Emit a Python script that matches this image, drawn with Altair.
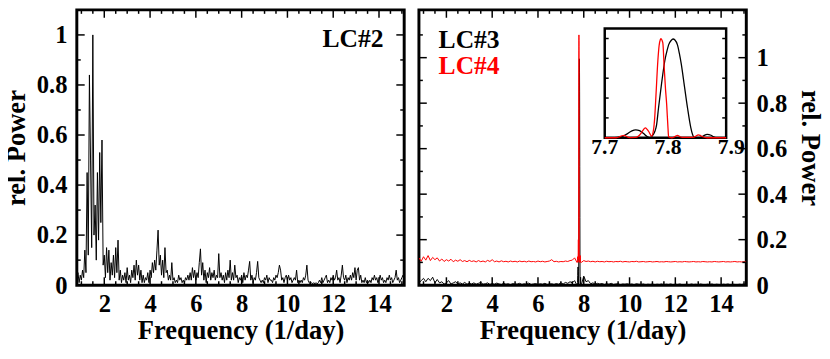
import altair as alt
import numpy as np
import pandas as pd

FONT = "Liberation Serif"

# ---------------- data ----------------
# LC#2 periodogram, sampled every 0.05 1/day starting at 0.80
lc2_start, lc2_step = 0.80, 0.05
lc2_power = [
    0.03, 0.05, 0.01, 0.04, 0.02, 0.06, 0.03, 0.14, 0.05, 0.45, 0.12, 0.84, 0.50, 0.15, 1.00, 0.20, 0.32, 0.10, 0.45, 0.18,
    0.53, 0.25, 0.58, 0.08, 0.12, 0.03, 0.15, 0.05, 0.14, 0.02, 0.09, 0.04, 0.12, 0.03, 0.15, 0.05, 0.18, 0.02, 0.06, 0.01,
    0.04, 0.02, 0.05, 0.01, 0.07, 0.02, 0.04, 0.01, 0.06, 0.03, 0.08, 0.02, 0.10, 0.04, 0.08, 0.02, 0.06, 0.01, 0.04, 0.01,
    0.03, 0.02, 0.05, 0.01, 0.06, 0.03, 0.09, 0.05, 0.10, 0.06, 0.14, 0.22, 0.08, 0.12, 0.04, 0.10, 0.03, 0.15, 0.05, 0.06,
    0.02, 0.04, 0.02, 0.09, 0.02, 0.03, 0.01, 0.02, 0.01, 0.04, 0.02, 0.03, 0.01, 0.02, 0.01, 0.03, 0.02, 0.04, 0.02, 0.05,
    0.02, 0.07, 0.03, 0.06, 0.02, 0.05, 0.03, 0.09, 0.145, 0.04, 0.09, 0.02, 0.06, 0.01, 0.05, 0.03, 0.07, 0.02, 0.05, 0.03,
    0.06, 0.02, 0.04, 0.03, 0.126, 0.03, 0.05, 0.02, 0.04, 0.01, 0.05, 0.02, 0.06, 0.03, 0.10, 0.02, 0.05, 0.02, 0.08, 0.03,
    0.04, 0.01, 0.03, 0.02, 0.04, 0.01, 0.05, 0.02, 0.04, 0.03, 0.06, 0.095, 0.02, 0.04, 0.01, 0.03, 0.02, 0.05, 0.095, 0.03,
    0.02, 0.01, 0.02, 0.01, 0.03, 0.02, 0.04, 0.01, 0.03, 0.02, 0.02, 0.01, 0.03, 0.02, 0.04, 0.03, 0.05, 0.08, 0.06, 0.02,
    0.03, 0.01, 0.03, 0.04, 0.02, 0.04, 0.02, 0.03, 0.01, 0.02, 0.03, 0.02, 0.06, 0.01, 0.02, 0.01, 0.02, 0.01, 0.03, 0.02,
    0.04, 0.08, 0.02, 0.01, 0.005, 0.01, 0.005, 0.01, 0.005, 0.01, 0.005, 0.01, 0.02, 0.01, 0.03, 0.01, 0.02, 0.03, 0.04, 0.01,
    0.02, 0.01, 0.03, 0.02, 0.04, 0.02, 0.03, 0.06, 0.02, 0.03, 0.01, 0.04, 0.08, 0.03, 0.02, 0.04, 0.01, 0.03, 0.02, 0.04,
    0.02, 0.05, 0.03, 0.07, 0.02, 0.06, 0.07, 0.02, 0.04, 0.01, 0.02, 0.01, 0.03, 0.01, 0.02, 0.01, 0.02, 0.01, 0.03, 0.02,
    0.04, 0.02, 0.03, 0.01, 0.02, 0.04, 0.02, 0.03, 0.01, 0.02, 0.01, 0.03, 0.02, 0.04, 0.02, 0.03, 0.01, 0.02, 0.03, 0.06,
    0.02, 0.03, 0.01, 0.02, 0.03, 0.04, 0.02,
]

# LC#3 / LC#4 periodograms, sampled every 0.1 1/day starting at 0.8
lc34_start, lc34_step = 0.8, 0.1
lc3_power = [
    0.010, 0.020, 0.030, 0.015, 0.030, 0.020, 0.035, 0.010, 0.025, 0.010,
    0.015, 0.005, 0.010, 0.020, 0.005, 0.010, 0.015, 0.005, 0.010, 0.005,
    0.012, 0.004, 0.008, 0.005, 0.010, 0.004, 0.008, 0.012, 0.004, 0.006,
    0.010, 0.003, 0.007, 0.004, 0.009, 0.005, 0.003, 0.008, 0.004, 0.006,
    0.002, 0.007, 0.004, 0.005, 0.008, 0.003, 0.006, 0.004, 0.009, 0.003,
    0.005, 0.007, 0.003, 0.006, 0.004, 0.008, 0.003, 0.005, 0.006, 0.003,
    0.007, 0.004, 0.010, 0.005, 0.012, 0.008, 0.015, 0.010, 0.020, 0.030,
    0.500, 0.030, 0.040, 0.015, 0.020, 0.006, 0.010, 0.004, 0.008, 0.005,
    0.007, 0.003, 0.006, 0.004, 0.008, 0.003, 0.005, 0.006, 0.002, 0.005,
    0.004, 0.006, 0.003, 0.005, 0.002, 0.006, 0.004, 0.003, 0.005, 0.002,
    0.004, 0.003, 0.005, 0.002, 0.004, 0.003, 0.005, 0.002, 0.004, 0.003,
    0.005, 0.002, 0.004, 0.003, 0.005, 0.002, 0.003, 0.004, 0.002, 0.005,
    0.003, 0.004, 0.002, 0.005, 0.003, 0.002, 0.004, 0.003, 0.005, 0.002,
    0.004, 0.003, 0.002, 0.004, 0.003, 0.005, 0.002, 0.004, 0.003, 0.002,
    0.004, 0.003, 0.005, 0.002,
]
lc4_power = [
    0.020, 0.005, 0.025, 0.010, 0.030, 0.008, 0.022, 0.012, 0.020, 0.006,
    0.015, 0.004, 0.012, 0.006, 0.014, 0.003, 0.010, 0.005, 0.012, 0.004,
    0.008, 0.003, 0.009, 0.004, 0.007, 0.002, 0.008, 0.003, 0.006, 0.002,
    0.009, 0.004, 0.012, 0.003, 0.006, 0.002, 0.007, 0.003, 0.005, 0.002,
    0.006, 0.003, 0.005, 0.002, 0.006, 0.003, 0.005, 0.002, 0.006, 0.003,
    0.004, 0.002, 0.006, 0.003, 0.005, 0.002, 0.004, 0.006, 0.012, 0.003,
    0.005, 0.002, 0.004, 0.003, 0.006, 0.004, 0.008, 0.010, 0.020, 0.040,
    0.500, 0.020, 0.008, 0.004, 0.006, 0.003, 0.005, 0.002, 0.005, 0.003,
    0.004, 0.002, 0.005, 0.003, 0.004, 0.002, 0.004, 0.003, 0.005, 0.002,
    0.004, 0.003, 0.002, 0.004, 0.003, 0.005, 0.002, 0.003, 0.004, 0.002,
    0.003, 0.004, 0.002, 0.003, 0.004, 0.002, 0.003, 0.002, 0.004, 0.003,
    0.002, 0.003, 0.004, 0.002, 0.003, 0.002, 0.004, 0.003, 0.002, 0.003,
    0.004, 0.002, 0.003, 0.002, 0.004, 0.003, 0.002, 0.003, 0.002, 0.004,
    0.003, 0.002, 0.003, 0.004, 0.002, 0.003, 0.002, 0.003, 0.004, 0.002,
    0.003, 0.002, 0.003, 0.002,
]
lc4_offset = 0.1

# zoom around the main peak (inset)
inset_lc3_freq = [7.700, 7.712, 7.720, 7.728, 7.736, 7.743, 7.749, 7.755, 7.761, 7.767, 7.771, 7.775,
                  7.779, 7.782, 7.785, 7.790, 7.795, 7.799, 7.801, 7.805, 7.808, 7.811, 7.815, 7.818,
                  7.821, 7.826, 7.831, 7.836, 7.839, 7.842, 7.849, 7.855, 7.862, 7.868, 7.872, 7.878, 7.892]
inset_lc3_power = [0.000, 0.000, 0.004, 0.012, 0.042, 0.070, 0.080, 0.072, 0.045, 0.012, 0.000, 0.016,
                   0.060, 0.130, 0.297, 0.553, 0.776, 0.890, 0.936, 0.980, 0.995, 0.985, 0.936, 0.850,
                   0.744, 0.521, 0.297, 0.105, 0.030, 0.000, 0.000, 0.015, 0.035, 0.025, 0.010, 0.000, 0.000]
inset_lc4_freq = [7.700, 7.718, 7.723, 7.727, 7.731, 7.735, 7.740, 7.749, 7.753, 7.757, 7.761, 7.764,
                  7.767, 7.770, 7.774, 7.777, 7.779, 7.781, 7.784, 7.786, 7.788, 7.789, 7.791, 7.792,
                  7.794, 7.796, 7.798, 7.800, 7.801, 7.806, 7.811, 7.815, 7.819, 7.823, 7.836, 7.843,
                  7.848, 7.852, 7.855, 7.862, 7.892]
inset_lc4_power = [0.000, 0.000, 0.008, 0.020, 0.025, 0.010, 0.002, 0.003, 0.015, 0.042, 0.080, 0.100,
                   0.085, 0.058, 0.016, 0.074, 0.200, 0.425, 0.776, 0.930, 0.990, 1.000, 0.975, 0.950,
                   0.710, 0.500, 0.330, 0.100, 0.010, 0.000, 0.012, 0.025, 0.010, 0.003, 0.003, 0.012,
                   0.030, 0.020, 0.010, 0.000, 0.000]

x_label_values = [2, 4, 6, 8, 10, 12, 14]
x_minor_values = [1.0, 1.5, 2.5, 3.0, 3.5, 4.5, 5.0, 5.5, 6.5, 7.0, 7.5, 8.5, 9.0, 9.5,
                  10.5, 11.0, 11.5, 12.5, 13.0, 13.5, 14.5, 15.0]
y_label_values = [0, 0.2, 0.4, 0.6, 0.8, 1.0]
y_major_ticks = [0.2, 0.4, 0.6, 0.8, 1.0]
y_minor_left = [0.1, 0.3, 0.5, 0.7, 0.9]
y_minor_right = [0.1, 0.3, 0.5, 0.7, 0.9, 1.1]
inset_y_ticks = [0.2, 0.4, 0.6, 0.8, 1.0]
inset_x_labels = [7.7, 7.8, 7.9]

# ---------------- tables ----------------
df2 = pd.DataFrame({"f": np.round(lc2_start + lc2_step * np.arange(len(lc2_power)), 3), "p": lc2_power})

f34 = np.round(lc34_start + lc34_step * np.arange(len(lc3_power)), 3)
bg3 = pd.DataFrame({"f": f34, "p": lc3_power})
bg4 = pd.DataFrame({"f": f34, "p": lc4_power})
keep = (f34 < 7.69) | (f34 > 7.91)
in3 = pd.DataFrame({"f": inset_lc3_freq, "p": inset_lc3_power})
in4 = pd.DataFrame({"f": inset_lc4_freq, "p": inset_lc4_power})
df3 = pd.concat([bg3[keep], in3]).sort_values("f").reset_index(drop=True)
df4 = pd.concat([bg4[keep], in4]).sort_values("f").reset_index(drop=True)
df4["p"] = df4["p"] + lc4_offset

# ---------------- layout ----------------
W, H = 333, 280
K = H / 290.0


def ry(y):
    return (y - 3.0) * K


x_scale = alt.Scale(domain=[0.8, 15.1], nice=False, zero=False)
yl_scale = alt.Scale(domain=[0, 1.1], nice=False, zero=False)
yr_scale = alt.Scale(domain=[0, 1.21], nice=False, zero=False)

BX0, BX1 = 189.0, 312.5
BY0, BY1 = ry(22.7), ry(137.7)
ix_scale = alt.Scale(domain=[7.7, 7.892], range=[BX0, BX1], nice=False, zero=False)
iy_scale = alt.Scale(domain=[0, 1.1], range=[BY1, BY0], nice=False, zero=False)

AX = dict(grid=False, ticks=False, tickSize=0, domain=False, labelFlush=False,
          labelFont=FONT, labelFontWeight="bold", labelFontSize=25, labelColor="black",
          titleFont=FONT, titleFontWeight="bold", titleFontSize=27, titleColor="black",
          labelOverlap=False)
x_axis = alt.Axis(title="Frequency (1/day)", values=x_label_values, format="d",
                  labelPadding=7, titlePadding=1, **AX)
yl_axis = alt.Axis(title="rel. Power", values=y_label_values, format=".1~f", orient="left",
                   labelPadding=10, titlePadding=6, **AX)
yr_axis = alt.Axis(title="rel. Power", values=y_label_values, format=".1~f", orient="right",
                   labelPadding=10, titlePadding=9, **AX)


def frame_ticks(xs, ys, y_major, y_minor):
    layers = []
    for vals, L in [(x_label_values, 8), (x_minor_values, 4)]:
        base = alt.Chart(pd.DataFrame({"t": vals})).mark_rule(color="black", strokeWidth=1.5)
        layers.append(base.encode(x=alt.X("t:Q", scale=xs, axis=None), y=alt.value(H - L), y2=alt.value(H)))
        layers.append(base.encode(x=alt.X("t:Q", scale=xs, axis=None), y=alt.value(0), y2=alt.value(L)))
    for vals, L in [(y_major, 8), (y_minor, 4)]:
        base = alt.Chart(pd.DataFrame({"t": vals})).mark_rule(color="black", strokeWidth=1.5)
        layers.append(base.encode(y=alt.Y("t:Q", scale=ys, axis=None), x=alt.value(0), x2=alt.value(L)))
        layers.append(base.encode(y=alt.Y("t:Q", scale=ys, axis=None), x=alt.value(W - L), x2=alt.value(W)))
    return alt.layer(*layers)


def label(text, color, x, y, align):
    return alt.Chart(pd.DataFrame({"t": [text]})).mark_text(
        align=align, baseline="alphabetic", font=FONT, fontWeight="bold", fontSize=26, color=color
    ).encode(text="t:N", x=alt.value(x), y=alt.value(y))


# ---------------- left panel ----------------
left_line = alt.Chart(df2).mark_line(color="black", strokeWidth=1, clip=True).encode(
    x=alt.X("f:Q", scale=x_scale, axis=x_axis),
    y=alt.Y("p:Q", scale=yl_scale, axis=yl_axis),
)
left_main = alt.layer(left_line, label("LC#2", "black", W - 21, ry(41.7), "right"))
left = alt.layer(
    left_main, frame_ticks(x_scale, yl_scale, y_major_ticks, y_minor_left)
).resolve_scale(x="independent", y="independent").properties(width=W, height=H)

# ---------------- right panel ----------------
lc3_line = alt.Chart(df3).mark_line(color="black", strokeWidth=1, clip=True).encode(
    x=alt.X("f:Q", scale=x_scale, axis=x_axis),
    y=alt.Y("p:Q", scale=yr_scale, axis=yr_axis),
)
lc4_line = alt.Chart(df4).mark_line(color="#ff0000", strokeWidth=1, clip=True).encode(
    x=alt.X("f:Q", scale=x_scale, axis=x_axis),
    y=alt.Y("p:Q", scale=yr_scale, axis=yr_axis),
)
main_group = alt.layer(
    lc3_line, lc4_line,
    label("LC#3", "black", 20, ry(43.3), "left"),
    label("LC#4", "#ff0000", 20, ry(70.7), "left"),
)

inset_box = alt.Chart(pd.DataFrame({"a": [0]})).mark_rect(
    fill="white", stroke="black", strokeWidth=2.5
).encode(x=alt.value(BX0), x2=alt.value(BX1), y=alt.value(BY0), y2=alt.value(BY1))
inset3 = alt.Chart(in3).mark_line(color="black", strokeWidth=1.3, interpolate="monotone").encode(
    x=alt.X("f:Q", scale=ix_scale, axis=None), y=alt.Y("p:Q", scale=iy_scale, axis=None))
inset4 = alt.Chart(in4).mark_line(color="#ff0000", strokeWidth=1.3, interpolate="monotone").encode(
    x=alt.X("f:Q", scale=ix_scale, axis=None), y=alt.Y("p:Q", scale=iy_scale, axis=None))
iticks = alt.Chart(pd.DataFrame({"t": inset_y_ticks})).mark_rule(color="black", strokeWidth=1.5)
inset_tick_l = iticks.encode(y=alt.Y("t:Q", scale=iy_scale, axis=None), x=alt.value(BX0), x2=alt.value(BX0 + 4))
inset_tick_r = iticks.encode(y=alt.Y("t:Q", scale=iy_scale, axis=None), x=alt.value(BX1 - 4), x2=alt.value(BX1))
inset_lab = alt.Chart(pd.DataFrame({"v": inset_x_labels})).mark_text(
    align="center", baseline="alphabetic", font=FONT, fontWeight="bold", fontSize=22, color="black"
).encode(x=alt.X("v:Q", scale=ix_scale, axis=None), y=alt.value(ry(155)), text=alt.Text("v:Q", format=".1f"))
inset_group = alt.layer(inset_box, inset3, inset4, inset_tick_l, inset_tick_r, inset_lab)

right = alt.layer(
    main_group, inset_group, frame_ticks(x_scale, yr_scale, y_major_ticks, y_minor_right)
).resolve_scale(x="independent", y="independent").properties(width=W, height=H)

chart = alt.hconcat(left, right, spacing=9).properties(
    padding={"left": -7, "right": -3, "top": -4, "bottom": 0},
    background="white",
).configure_view(stroke="black", strokeWidth=3)

chart.save("out.html", embed_options={"renderer": "svg", "actions": False})
